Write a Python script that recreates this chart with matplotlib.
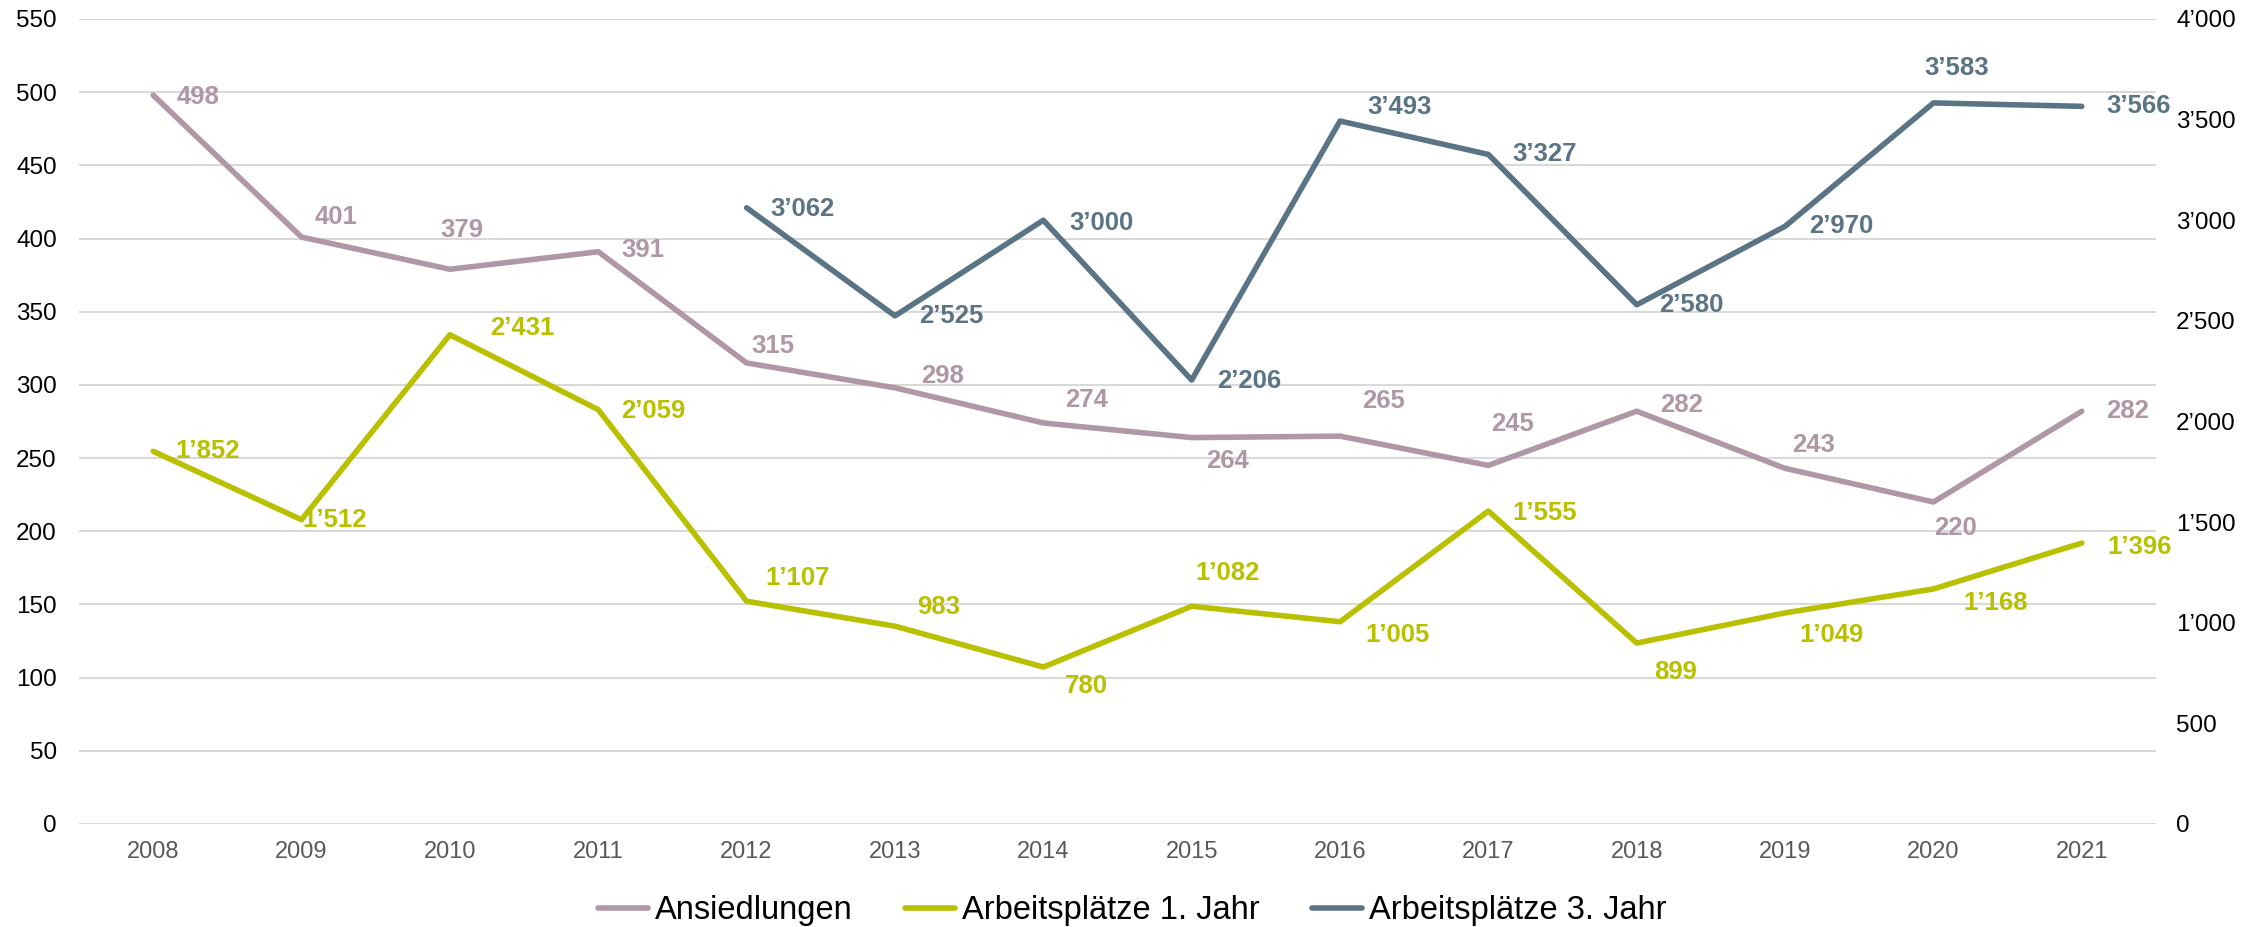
import matplotlib.pyplot as plt
from matplotlib.ticker import FuncFormatter

plt.rcParams['font.family'] = ['Liberation Sans', 'DejaVu Sans']

years = [2008, 2009, 2010, 2011, 2012, 2013, 2014, 2015, 2016, 2017, 2018, 2019, 2020, 2021]
ansiedlungen = [498, 401, 379, 391, 315, 298, 274, 264, 265, 245, 282, 243, 220, 282]
jobs_1 = [1852, 1512, 2431, 2059, 1107, 983, 780, 1082, 1005, 1555, 899, 1049, 1168, 1396]
years_3 = [2012, 2013, 2014, 2015, 2016, 2017, 2018, 2019, 2020, 2021]
jobs_3 = [3062, 2525, 3000, 2206, 3493, 3327, 2580, 2970, 3583, 3566]

c_ans = '#b097a6'
c_j1 = '#b9c000'
c_j3 = '#5a7485'

# label offsets (pixels in the shrunk preview, x right / y down)
off_ans = [(31, 1), (24, -14), (8, -27), (31, -1), (18, -12), (33, -8), (30, -16),
           (25, 16), (30, -24), (17, -29), (31, -4), (20, -16), (15, 18), (32, 0)]
off_j1 = [(38, 0), (23, 0), (50, -5), (38, 1), (35, -16), (30, -13), (30, 13),
          (25, -23), (40, 9), (39, 1), (27, 20), (32, 15), (43, 10), (40, 3)]
off_j3 = [(39, 1), (39, 0), (40, 2), (40, 1), (41, -10), (39, 0), (38, 0), (39, 0),
          (16, -24), (39, 0)]


def fmt(v):
    return f'{int(v):,}'.replace(',', '\u2019')


def label(ax, xs, ys, offs, color, text_fn):
    k = 2264 / 1568 * 0.72
    for x, y, (dx, dy) in zip(xs, ys, offs):
        ax.annotate(text_fn(y), (x, y), xytext=(dx * k, -dy * k), textcoords='offset points',
                    ha='center', va='center', color=color, fontsize=18.5, fontweight='bold')


fig = plt.figure(figsize=(22.64, 9.27), dpi=100)
ax = fig.add_axes([79 / 2264, 1 - 824 / 927, (2156 - 79) / 2264, (824 - 19) / 927])
ax2 = ax.twinx()

xi = list(range(len(years)))
x3 = [years.index(y) for y in years_3]

l1, = ax.plot(xi, ansiedlungen, color=c_ans, lw=4, solid_capstyle='round', label='Ansiedlungen')
l2, = ax2.plot(xi, jobs_1, color=c_j1, lw=4, solid_capstyle='round', label='Arbeitsplätze 1. Jahr')
l3, = ax2.plot(x3, jobs_3, color=c_j3, lw=4, solid_capstyle='round', label='Arbeitsplätze 3. Jahr')

label(ax, xi, ansiedlungen, off_ans, c_ans, lambda v: str(v))
label(ax2, xi, jobs_1, off_j1, c_j1, fmt)
label(ax2, x3, jobs_3, off_j3, c_j3, fmt)

ax.set_xlim(-0.5, len(years) - 0.5)
ax.set_ylim(0, 550)
ax2.set_ylim(0, 4000)
ax.set_yticks(range(0, 551, 50))
ax2.set_yticks(range(0, 4001, 500))
ax2.yaxis.set_major_formatter(FuncFormatter(lambda v, p: fmt(v)))
ax.set_xticks(xi)
ax.set_xticklabels(years)

ax.grid(axis='y', color='#d9d9d9', lw=1.5)
ax.set_axisbelow(True)
for a in (ax, ax2):
    for s in a.spines.values():
        s.set_visible(False)
    a.tick_params(length=0, labelsize=17.5)
ax.tick_params(axis='x', colors='#595959', pad=12, labelsize=17)
ax.tick_params(axis='y', pad=16)
ax2.tick_params(axis='y', pad=14.5)

fig.legend(handles=[l1, l2, l3], loc='center', bbox_to_anchor=(0.5, 1 - 911 / 927), ncol=3,
           frameon=False, fontsize=23.5, handlelength=1.55, columnspacing=1.6, handletextpad=0.2)

fig.savefig('out.png', dpi=100)
